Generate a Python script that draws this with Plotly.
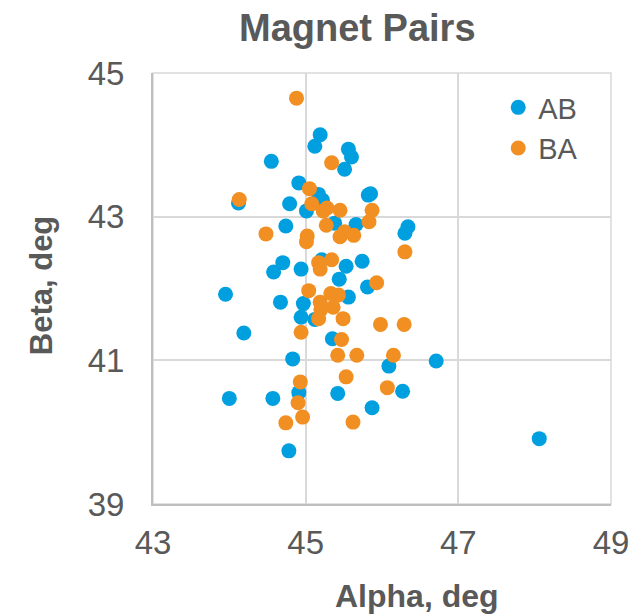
import plotly.graph_objects as go

# AB series (Alpha, Beta)
ab_alpha = [48.06, 46.71, 46.27, 46.09, 45.87, 45.42, 44.78, 44.00, 44.57, 44.91,
            44.83, 45.35, 44.19, 45.12, 44.94, 44.97, 44.67, 43.95, 45.56, 45.44,
            45.81, 45.74, 45.53, 45.21, 44.94, 44.58, 44.70, 44.74, 45.38, 45.66,
            46.34, 46.30, 45.01, 44.79, 44.12, 45.22, 45.17, 45.82, 45.85, 44.91,
            44.55, 45.51, 45.60, 45.56, 45.12, 45.19]
ab_beta = [39.91, 40.99, 40.57, 40.92, 40.34, 40.54, 39.74, 40.47, 40.47, 40.55,
           41.02, 41.30, 41.38, 41.57, 41.60, 41.79, 41.81, 41.92, 41.88, 42.13,
           42.02, 42.38, 42.31, 42.40, 42.27, 42.23, 42.36, 42.87, 42.91, 42.89,
           42.86, 42.77, 43.08, 43.18, 43.19, 43.23, 43.31, 43.30, 43.32, 43.47,
           43.77, 43.66, 43.83, 43.94, 43.98, 44.14]

# BA series (Alpha, Beta)
ba_alpha = [44.88, 45.34, 45.05, 44.13, 45.08, 45.23, 45.28, 45.45, 45.87, 45.83,
            45.27, 45.45, 45.51, 45.63, 44.48, 45.02, 45.01, 46.30, 45.17, 45.19,
            45.34, 45.93, 45.04, 45.19, 45.33, 45.43, 45.20, 45.36, 45.17, 45.49,
            44.94, 45.98, 46.29, 45.47, 45.42, 45.67, 46.15, 45.53, 44.93, 44.90,
            46.07, 44.96, 44.74, 45.62]
ba_beta = [44.65, 43.75, 43.39, 43.24, 43.18, 43.08, 43.12, 43.09, 43.09, 42.93,
           42.88, 42.72, 42.79, 42.74, 42.76, 42.73, 42.65, 42.51, 42.36, 42.27,
           42.40, 42.08, 41.97, 41.81, 41.93, 41.91, 41.71, 41.74, 41.58, 41.58,
           41.39, 41.50, 41.50, 41.29, 41.07, 41.07, 41.07, 40.77, 40.70, 40.41,
           40.62, 40.21, 40.13, 40.14]

x_ticks = [43, 45, 47, 49]
y_ticks = [39, 41, 43, 45]

BLUE = "#009FE0"
ORANGE = "#F18F22"
TEXT = "#595959"
FONT = "Liberation Sans, Arial, sans-serif"

# page offset of the figure (browser body margin)
OFF = 8
W, H = 641 - OFF, 614 - OFF
# plot area in page pixels
pl, pr, pt, pb = 153, 616, 73, 504

fig = go.Figure()
fig.add_trace(go.Scatter(x=ab_alpha, y=ab_beta, mode="markers", name="AB",
                         marker=dict(color=BLUE, size=15, line=dict(width=0))))
fig.add_trace(go.Scatter(x=ba_alpha, y=ba_beta, mode="markers", name="BA",
                         marker=dict(color=ORANGE, size=15, line=dict(width=0))))


def px2paper(px, py):
    return (px - pl) / (pr - pl), (pb - py) / (pb - pt)


ann_specs = [
    ("<b>Magnet Pairs</b>", 360, 28, 38, 0),
    ("<b>Alpha, deg</b>", 420, 596, 32, 0),
    ("<b>Beta, deg</b>", 40, 285, 31, -90),
]
annotations = []
for text, px, py, size, ang in ann_specs:
    ax, ay = px2paper(px, py)
    annotations.append(dict(text=text, x=ax, y=ay, xref="paper", yref="paper",
                            xanchor="center", yanchor="middle", showarrow=False,
                            textangle=ang,
                            font=dict(family=FONT, size=size, color=TEXT)))

lx, ly = px2paper(502, 82)

fig.update_layout(
    width=W, height=H,
    margin=dict(l=pl - OFF, r=641 - pr, t=pt - OFF, b=614 - pb, pad=0),
    paper_bgcolor="white", plot_bgcolor="white",
    showlegend=True,
    legend=dict(x=lx, y=ly, xanchor="left", yanchor="top",
                font=dict(family=FONT, size=29, color=TEXT),
                bgcolor="rgba(0,0,0,0)", tracegroupgap=0),
    font=dict(family=FONT, color=TEXT),
    annotations=annotations,
)

fig.update_xaxes(range=[43, 49], tickvals=x_ticks, ticktext=[str(v) for v in x_ticks],
                 showgrid=True, gridcolor="#D9D9D9", gridwidth=1.5,
                 showline=True, linecolor="#BFBFBF", linewidth=2, mirror=False,
                 zeroline=False, ticks="", ticklabelstandoff=8,
                 tickfont=dict(family=FONT, size=33, color=TEXT))
fig.update_yaxes(range=[39, 45], tickvals=y_ticks, ticktext=[str(v) for v in y_ticks],
                 showgrid=True, gridcolor="#D9D9D9", gridwidth=1.5,
                 showline=True, linecolor="#BFBFBF", linewidth=2, mirror=False,
                 zeroline=False, ticks="", ticklabelstandoff=20,
                 tickfont=dict(family=FONT, size=33, color=TEXT))

# top and right border in gridline colour
fig.add_shape(type="rect", xref="paper", yref="paper", x0=0, y0=0, x1=1, y1=1,
              line=dict(color="#D9D9D9", width=1.5), layer="below")

fig.write_html("out.html")
